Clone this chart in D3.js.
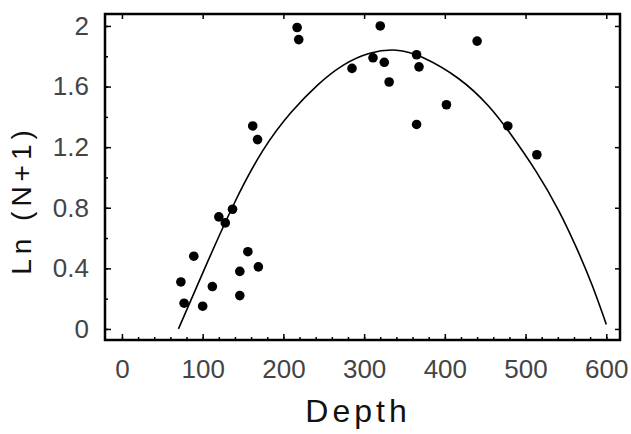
<!DOCTYPE html>
<html>
<head>
<meta charset="utf-8">
<script src="https://cdn.jsdelivr.net/npm/d3@7"></script>
<style>
  body { margin: 0; background: #fff; }
  text { font-family: "Liberation Sans", Arial, sans-serif; }
</style>
</head>
<body>
<svg width="631" height="434"></svg>
<script>
// Observed samples (depth, ln(N+1))
let depth = [89, 73, 77, 100, 112, 120, 128, 137, 156, 146, 169, 146,
             217, 219, 162, 168,
             320, 285, 311, 325, 331, 365, 368, 402, 365, 440, 478, 514];
let lnN = [0.48, 0.31, 0.17, 0.15, 0.28, 0.74, 0.70, 0.79, 0.51, 0.38, 0.41, 0.22,
           1.99, 1.91, 1.34, 1.25,
           2.00, 1.72, 1.79, 1.76, 1.63, 1.81, 1.73, 1.48, 1.35, 1.90, 1.34, 1.15];

// Fitted curve
let fitDepth = [70, 100, 138, 175, 210, 243, 274, 307, 341, 369, 419, 456, 480, 514, 542, 563, 583, 600];
let fitLn = [0, 0.37, 0.83, 1.20, 1.44, 1.62, 1.75, 1.83, 1.85, 1.81, 1.66, 1.47, 1.30, 1.04, 0.78, 0.54, 0.29, 0.03];

let xTicks = [0, 100, 200, 300, 400, 500, 600];
let yTicks = [0, 0.4, 0.8, 1.2, 1.6, 2];
let yTickLabels = ["0", "0.4", "0.8", "1.2", "1.6", "2"];

let margin = {top: 14, right: 11, bottom: 94, left: 105};
let width = 631 - margin.left - margin.right;
let height = 434 - margin.top - margin.bottom;

let x = d3.scaleLinear().domain([-21, 617]).range([0, width]);
let y = d3.scaleLinear().domain([-0.073, 2.079]).range([height, 0]);

let svg = d3.select("svg").append("g")
    .attr("transform", "translate(" + margin.left + "," + margin.top + ")");

// minor ticks
let minorX = d3.range(0, 601, 20);
let minorY = d3.range(0, 2.01, 0.2);

svg.append("g")
    .attr("transform", "translate(0," + height + ")")
    .call(d3.axisBottom(x).tickValues(minorX).tickSizeInner(-3).tickSizeOuter(0).tickFormat(""))
    .call(g => g.select(".domain").remove());
svg.append("g")
    .call(d3.axisLeft(y).tickValues(minorY).tickSizeInner(-3).tickSizeOuter(0).tickFormat(""))
    .call(g => g.select(".domain").remove());

// Bottom axis
let xAxis = svg.append("g")
    .attr("transform", "translate(0," + height + ")")
    .call(d3.axisBottom(x).tickValues(xTicks).tickSizeInner(-6).tickSizeOuter(0).tickPadding(20));
xAxis.select(".domain").remove();
xAxis.selectAll("text")
    .attr("font-size", 26)
    .attr("fill", "#444")
    .style("font-family", "'Liberation Sans', Arial, sans-serif");

// Left axis
let yAxis = svg.append("g")
    .call(d3.axisLeft(y).tickValues(yTicks).tickSizeInner(-6).tickSizeOuter(0).tickPadding(16)
        .tickFormat((d, i) => yTickLabels[i]));
yAxis.select(".domain").remove();
yAxis.selectAll("text")
    .attr("font-size", 26)
    .attr("fill", "#444")
    .style("font-family", "'Liberation Sans', Arial, sans-serif");

// Top and right ticks
svg.append("g")
    .call(d3.axisTop(x).tickValues(xTicks).tickSizeInner(-5).tickSizeOuter(0).tickFormat(""))
    .call(g => g.select(".domain").remove());
svg.append("g")
    .attr("transform", "translate(" + width + ",0)")
    .call(d3.axisRight(y).tickValues(yTicks).tickSizeInner(-5).tickSizeOuter(0).tickFormat(""))
    .call(g => g.select(".domain").remove());

svg.selectAll(".tick line").attr("stroke", "#000").attr("stroke-width", 1.5);

// Frame
svg.append("rect")
    .attr("width", width)
    .attr("height", height)
    .attr("fill", "none")
    .attr("stroke", "#000")
    .attr("stroke-width", 2.5);

// Fitted curve
let fit = fitDepth.map((d, i) => ({x: d, y: fitLn[i]}));
let line = d3.line()
    .x(d => x(d.x))
    .y(d => y(d.y))
    .curve(d3.curveBasis);
svg.append("path")
    .datum(fit)
    .attr("fill", "none")
    .attr("stroke", "#000")
    .attr("stroke-width", 1.6)
    .attr("d", line);

// Points
svg.selectAll(".dot")
    .data(depth.map((d, i) => ({x: d, y: lnN[i]})))
    .enter().append("circle")
    .attr("class", "dot")
    .attr("cx", d => x(d.x))
    .attr("cy", d => y(d.y))
    .attr("r", 4.8)
    .attr("fill", "#000");

// Axis titles
d3.select("svg").append("text")
    .attr("x", 358)
    .attr("y", 422)
    .attr("text-anchor", "middle")
    .attr("font-size", 32)
    .attr("letter-spacing", 4)
    .attr("fill", "#111")
    .text("Depth");

d3.select("svg").append("text")
    .attr("transform", "translate(31,200) rotate(-90)")
    .attr("text-anchor", "middle")
    .attr("font-size", 28)
    .attr("letter-spacing", 5)
    .attr("fill", "#111")
    .text("Ln (N+1)");
</script>
</body>
</html>
